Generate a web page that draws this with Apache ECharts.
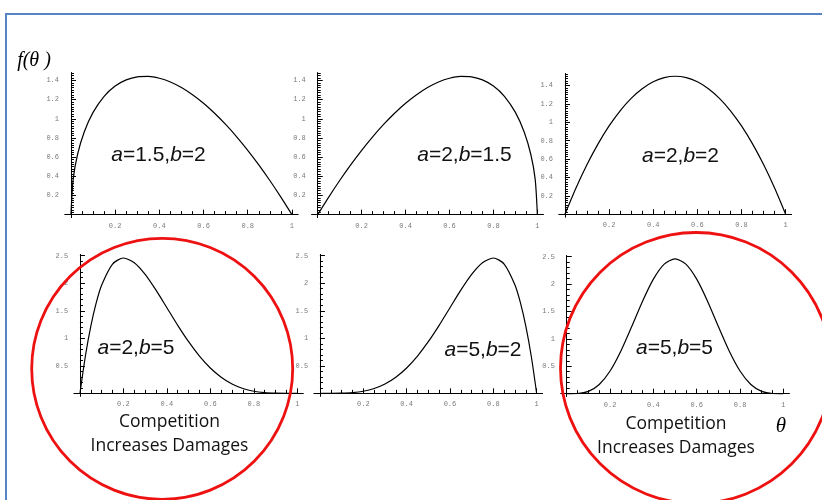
<!DOCTYPE html>
<html><head><meta charset="utf-8">
<script src="https://cdn.jsdelivr.net/npm/echarts@6/dist/echarts.min.js"></script>
<style>html,body{margin:0;padding:0;background:#fff}#c{width:822px;height:500px}</style>
</head><body><div id="c"></div>
<script>
// ---- tick labels ----
const xTicks = [0.2, 0.4, 0.6, 0.8, 1];
const yTicksTop = [0.2, 0.4, 0.6, 0.8, 1, 1.2, 1.4];
const yTicksBottom = [0.5, 1, 1.5, 2, 2.5];

// ---- curve values ----
const x_a15b2 = [0, 0.01, 0.03, 0.06, 0.1, 0.15, 0.2, 0.25, 0.3, 0.35, 0.4, 0.45, 0.5, 0.55, 0.6, 0.65, 0.7, 0.75, 0.8, 0.85, 0.9, 0.95, 1];
const y_a15b2 = [0, 0.371, 0.630, 0.863, 1.067, 1.235, 1.342, 1.406, 1.438, 1.442, 1.423, 1.384, 1.326, 1.251, 1.162, 1.058, 0.941, 0.812, 0.671, 0.519, 0.356, 0.183, 0];

const x_a2b15 = [0, 0.05, 0.1, 0.15, 0.2, 0.25, 0.3, 0.35, 0.4, 0.45, 0.5, 0.55, 0.6, 0.65, 0.7, 0.75, 0.8, 0.85, 0.9, 0.94, 0.97, 0.99, 1];
const y_a2b15 = [0, 0.183, 0.356, 0.519, 0.671, 0.812, 0.941, 1.058, 1.162, 1.251, 1.326, 1.384, 1.423, 1.442, 1.438, 1.406, 1.342, 1.235, 1.067, 0.863, 0.630, 0.371, 0];

const x_a2b2 = [0, 0.05, 0.1, 0.15, 0.2, 0.25, 0.3, 0.35, 0.4, 0.45, 0.5, 0.55, 0.6, 0.65, 0.7, 0.75, 0.8, 0.85, 0.9, 0.95, 1];
const y_a2b2 = [0, 0.285, 0.54, 0.765, 0.96, 1.125, 1.26, 1.365, 1.44, 1.485, 1.5, 1.485, 1.44, 1.365, 1.26, 1.125, 0.96, 0.765, 0.54, 0.285, 0];

const x_a2b5 = [0, 0.025, 0.05, 0.075, 0.1, 0.15, 0.2, 0.25, 0.3, 0.35, 0.4, 0.45, 0.5, 0.55, 0.6, 0.65, 0.7, 0.75, 0.8, 0.85, 0.9, 0.95, 1];
const y_a2b5 = [0, 0.678, 1.222, 1.647, 1.968, 2.349, 2.458, 2.373, 2.161, 1.874, 1.555, 1.235, 0.938, 0.677, 0.461, 0.293, 0.170, 0.088, 0.038, 0.013, 0.003, 0, 0];

const x_a5b2 = [0, 0.05, 0.1, 0.15, 0.2, 0.25, 0.3, 0.35, 0.4, 0.45, 0.5, 0.55, 0.6, 0.65, 0.7, 0.75, 0.8, 0.85, 0.9, 0.925, 0.95, 0.975, 1];
const y_a5b2 = [0, 0, 0.003, 0.013, 0.038, 0.088, 0.170, 0.293, 0.461, 0.677, 0.938, 1.235, 1.555, 1.874, 2.161, 2.373, 2.458, 2.349, 1.968, 1.647, 1.222, 0.678, 0];

const x_a5b5 = [0, 0.05, 0.1, 0.15, 0.2, 0.25, 0.3, 0.35, 0.4, 0.45, 0.5, 0.55, 0.6, 0.65, 0.7, 0.75, 0.8, 0.85, 0.9, 0.95, 1];
const y_a5b5 = [0, 0.003, 0.041, 0.167, 0.413, 0.779, 1.225, 1.688, 2.090, 2.364, 2.461, 2.364, 2.090, 1.688, 1.225, 0.779, 0.413, 0.167, 0.041, 0.003, 0];

const plotLabels = ['a=1.5,b=2', 'a=2,b=1.5', 'a=2,b=2', 'a=2,b=5', 'a=5,b=2', 'a=5,b=5'];
const captionLines = ['Competition', 'Increases Damages'];

// ---- layout (styling) ----
const panels = [
  {xs: x_a15b2, ys: y_a15b2, yt: yTicksTop, ymin: -0.03, ymax: 1.48, ystep: 0.025, left: 65.0, top: 72.8, width: 232.9, height: 144.7, lx: 158.5, ly: 155},
  {xs: x_a2b15, ys: y_a2b15, yt: yTicksTop, ymin: -0.03, ymax: 1.48, ystep: 0.025, left: 311.8, top: 72.8, width: 231.5, height: 144.7, lx: 464.5, ly: 155},
  {xs: x_a2b2, ys: y_a2b2, yt: yTicksTop, ymin: -0.03, ymax: 1.53, ystep: 0.025, left: 559.0, top: 73.5, width: 232.6, height: 143.5, lx: 680.5, ly: 156.5},
  {xs: x_a2b5, ys: y_a2b5, yt: yTicksBottom, ymin: -0.05, ymax: 2.52, ystep: 0.1, left: 74.1, top: 254.6, width: 229.0, height: 141.5, lx: 136, ly: 348},
  {xs: x_a5b2, ys: y_a5b2, yt: yTicksBottom, ymin: -0.05, ymax: 2.52, ystep: 0.1, left: 314.1, top: 254.6, width: 228.4, height: 141.5, lx: 483, ly: 350},
  {xs: x_a5b5, ys: y_a5b5, yt: yTicksBottom, ymin: -0.05, ymax: 2.52, ystep: 0.1, left: 560.9, top: 255.6, width: 228.3, height: 140.8, lx: 674.5, ly: 348}
];
const XMIN = -0.027, XMAX = 1.027;

function steps(step, max) {
  const out = [];
  for (let k = 1; k * step <= max + 1e-9; k++) out.push(Math.round(k * step * 1000) / 1000);
  return out;
}
const tickFont = {fontFamily: 'Liberation Mono', fontSize: 7, color: '#7a7a7a'};
const black = () => ({color: '#000', width: 1});

const grid = [], xAxis = [], yAxis = [], series = [], graphic = [];
panels.forEach((p, i) => {
  grid.push({left: p.left, top: p.top, width: p.width, height: p.height, containLabel: false, outerBoundsMode: 'none'});
  const xi = 2 * i;
  xAxis.push({
    type: 'value', gridIndex: i, min: XMIN, max: XMAX, position: 'bottom',
    axisLine: {show: true, onZero: true, onZeroAxisIndex: xi, lineStyle: black()},
    axisTick: {show: true, inside: true, length: 5, customValues: xTicks.slice(), lineStyle: black()},
    axisLabel: Object.assign({show: true, customValues: xTicks.slice(), margin: 5}, tickFont),
    splitLine: {show: false}
  });
  xAxis.push({
    type: 'value', gridIndex: i, min: XMIN, max: XMAX, position: 'bottom',
    axisLine: {show: true, onZero: true, onZeroAxisIndex: xi, lineStyle: black()},
    axisTick: {show: true, inside: true, length: 3.5, customValues: steps(0.05, 1), lineStyle: black()},
    axisLabel: {show: false}, splitLine: {show: false}
  });
  yAxis.push({
    type: 'value', gridIndex: i, min: p.ymin, max: p.ymax, position: 'left',
    axisLine: {show: true, onZero: true, onZeroAxisIndex: xi, lineStyle: black()},
    axisTick: {show: true, inside: true, length: 5, customValues: p.yt.slice(), lineStyle: black()},
    axisLabel: Object.assign({show: true, customValues: p.yt.slice(), margin: 6}, tickFont),
    splitLine: {show: false}
  });
  yAxis.push({
    type: 'value', gridIndex: i, min: p.ymin, max: p.ymax, position: 'left',
    axisLine: {show: true, onZero: true, onZeroAxisIndex: xi, lineStyle: black()},
    axisTick: {show: true, inside: true, length: 3, customValues: steps(p.ystep, p.ymax), lineStyle: black()},
    axisLabel: {show: false}, splitLine: {show: false}
  });
  series.push({
    type: 'line', xAxisIndex: xi, yAxisIndex: xi,
    data: p.xs.map((x, k) => [x, p.ys[k]]),
    showSymbol: false, smooth: 0.25,
    lineStyle: {color: '#000', width: 1.2}, silent: true
  });
  const parts = plotLabels[i].split(/([ab])/).filter(s => s.length);
  graphic.push({
    type: 'text', x: p.lx, y: p.ly, z: 10,
    style: {
      text: parts.map(s => (s === 'a' || s === 'b') ? '{i|' + s + '}' : '{n|' + s + '}').join(''),
      align: 'center', verticalAlign: 'middle',
      rich: {
        i: {fontFamily: 'Liberation Sans', fontStyle: 'italic', fontSize: 21, fill: '#111'},
        n: {fontFamily: 'Liberation Sans', fontSize: 21, fill: '#111'}
      }
    }
  });
});

// frame
graphic.push({type: 'rect', z: 1, shape: {x: 6, y: 14, width: 840, height: 520},
  style: {fill: 'none', stroke: '#5585c5', lineWidth: 2}});
// f(theta) and theta
graphic.push({type: 'text', x: 34, y: 61, z: 10, style: {text: 'f(θ )', font: 'italic 20px "Liberation Serif"', fill: '#000', align: 'center', verticalAlign: 'middle'}});
graphic.push({type: 'text', x: 781, y: 426, z: 10, style: {text: 'θ', font: 'italic 21px "Liberation Serif"', fill: '#000', align: 'center', verticalAlign: 'middle'}});
// captions
[[169.5, 421.7], [676, 424]].forEach(c => {
  captionLines.forEach((t, k) => {
    graphic.push({type: 'text', x: c[0], y: c[1] + k * 24.5, z: 10,
      style: {text: t, font: '17.5px "Open Sans"', fill: '#111', align: 'center', verticalAlign: 'middle'}});
  });
});
// red circles
graphic.push({type: 'circle', z: 20, shape: {cx: 162.2, cy: 368.8, r: 130.5}, style: {fill: 'none', stroke: '#ee1111', lineWidth: 2.8}});
graphic.push({type: 'circle', z: 20, shape: {cx: 696, cy: 368, r: 135.5}, style: {fill: 'none', stroke: '#ee1111', lineWidth: 2.8}});

const chart = echarts.init(document.getElementById('c'), null, {renderer: 'canvas'});
chart.setOption({animation: false, backgroundColor: '#fff', grid, xAxis, yAxis, series, graphic});
</script></body></html>
